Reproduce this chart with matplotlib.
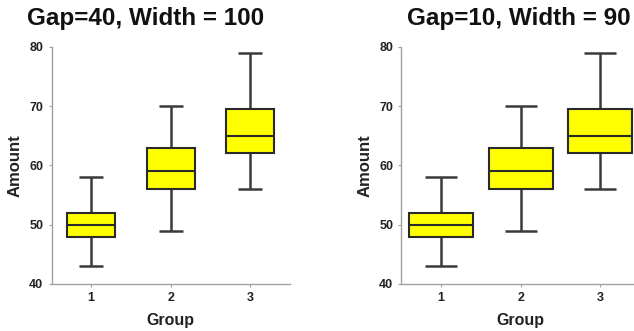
import matplotlib
matplotlib.use("Agg")
import matplotlib.pyplot as plt

groups = [1, 2, 3]
group_labels = ["1", "2", "3"]
whisker_low = [43, 49, 56]
q1 = [48, 56, 62]
median = [50, 59, 65]
q3 = [52, 63, 69.5]
whisker_high = [58, 70, 79]

titles = ["Gap=40, Width = 100", "Gap=10, Width = 90"]
box_widths = [0.6, 0.81]
y_ticks = [40, 50, 60, 70, 80]

plt.rcParams['font.family'] = ['Liberation Sans', 'DejaVu Sans']
plt.rcParams['font.weight'] = 'bold'

W, H = 634, 331
fig = plt.figure(figsize=(W / 100, H / 100), dpi=100)

axes_px = [(51.5, 46.7, 238.5, 237.3), (401.5, 46.7, 238.5, 237.3)]
title_x = [146, 518.5]

stats = []
for i in range(len(groups)):
    stats.append(dict(med=median[i], q1=q1[i], q3=q3[i], whislo=whisker_low[i],
                      whishi=whisker_high[i], fliers=[], label=group_labels[i]))

edge = '#2a2a2a'
spine_c = '#a0a0a0'
for k in range(2):
    x0, y0, w, h = axes_px[k]
    ax = fig.add_axes([x0 / W, (H - y0 - h) / H, w / W, h / H])
    ax.bxp(stats, positions=groups, widths=box_widths[k], patch_artist=True,
           showfliers=False,
           boxprops=dict(facecolor='#ffff00', edgecolor=edge, linewidth=1.5, zorder=3),
           medianprops=dict(color=edge, linewidth=1.5, zorder=4),
           whiskerprops=dict(color='#3a3a3a', linewidth=1.8, solid_capstyle='butt', zorder=2),
           capprops=dict(color='#3a3a3a', linewidth=1.8, solid_capstyle='butt', zorder=2),
           capwidths=box_widths[k] / 2)
    ax.set_xlim(0.5, 3.5)
    ax.set_ylim(40, 80)
    ax.set_yticks(y_ticks)
    ax.set_xticks(groups)
    ax.set_xticklabels(group_labels)
    for s in ['top', 'right']:
        ax.spines[s].set_visible(False)
    for s in ['left', 'bottom']:
        ax.spines[s].set_color(spine_c)
        ax.spines[s].set_linewidth(1.0)
    ax.tick_params(axis='both', length=2.5, width=0.8, color=spine_c,
                   labelsize=9, labelcolor='#222222', pad=3.5)
    for lab in ax.get_xticklabels() + ax.get_yticklabels():
        lab.set_fontweight('bold')
    ax.set_ylabel('Amount', fontsize=12, fontweight='bold', color='#222222', labelpad=5)
    ax.set_xlabel('Group', fontsize=11.5, fontweight='bold', color='#222222', labelpad=6)
    fig.text(title_x[k] / W, (H - 25) / H, titles[k], ha='center', va='baseline',
             fontsize=17.5, fontweight='bold', color='#111111')

fig.savefig('out.png', dpi=100)
